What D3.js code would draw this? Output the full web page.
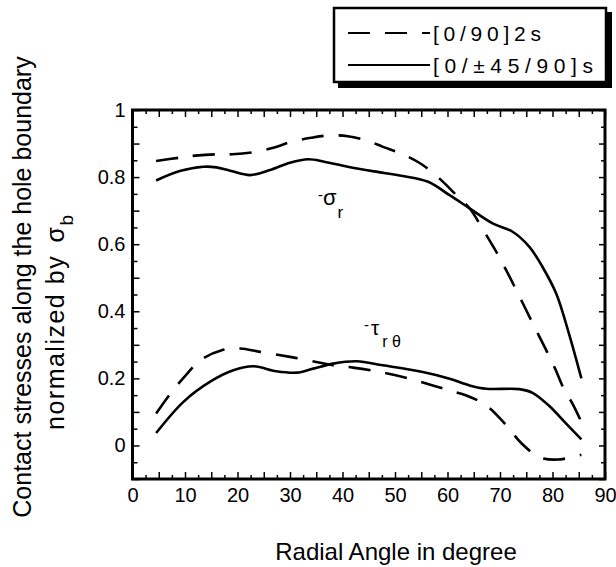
<!DOCTYPE html>
<html>
<head>
<meta charset="utf-8">
<script src="https://cdn.jsdelivr.net/npm/d3@7"></script>
<style>
  body { margin: 0; background: #fff; }
  svg text { font-family: "Liberation Sans", Arial, Helvetica, sans-serif; fill: #000; }
</style>
</head>
<body>
<div id="chart"></div>
<script>
// series: [angle in degree, normalized stress]
var sigmaCross = [
    [4.5, 0.848], [9, 0.858], [12, 0.864], [16, 0.868], [19, 0.868], [23, 0.874],
    [27, 0.888], [30, 0.904], [34, 0.917], [37.3, 0.924], [41, 0.922], [45, 0.907],
    [47.7, 0.89], [51.5, 0.868], [55, 0.839], [58.8, 0.791], [62.3, 0.736], [64.2, 0.707],
    [67.4, 0.627], [69.3, 0.577], [71.2, 0.522], [73.1, 0.463], [75, 0.403], [76.9, 0.343],
    [78.8, 0.284], [80.5, 0.229], [82, 0.174], [84, 0.119], [85.5, 0.07]
];
var sigmaQuasi = [
    [4.5, 0.79], [9, 0.818], [13.5, 0.831], [16, 0.829], [18.6, 0.819], [22.4, 0.806],
    [26.2, 0.821], [30, 0.843], [33.5, 0.853], [36.5, 0.846], [41, 0.831], [46, 0.817],
    [51.5, 0.803], [56.3, 0.786], [60.4, 0.746], [64.2, 0.707], [68.6, 0.662], [72.4, 0.637],
    [75.6, 0.592], [78.1, 0.532], [80.7, 0.453], [83.2, 0.33], [85.5, 0.2]
];
var tauCross = [
    [4.5, 0.095], [7.2, 0.154], [10.3, 0.212], [12.9, 0.254], [17, 0.284], [20.5, 0.289],
    [24.3, 0.279], [30, 0.264], [35, 0.249], [38.2, 0.239], [42, 0.232], [47.1, 0.219],
    [52.8, 0.199], [57.2, 0.179], [60.4, 0.164], [63.6, 0.149], [67.4, 0.119], [71.2, 0.06],
    [74, 0.008], [77.5, -0.035], [81, -0.042], [85.5, -0.028]
];
var tauQuasi = [
    [4.5, 0.037], [9.7, 0.13], [14.8, 0.19], [19.2, 0.224], [23, 0.236], [27.4, 0.221],
    [31.3, 0.217], [34.4, 0.229], [38.2, 0.244], [42.7, 0.251], [47.7, 0.239], [55.3, 0.219],
    [60.4, 0.199], [64.2, 0.179], [67.4, 0.169], [73.7, 0.168], [76.2, 0.157], [79.3, 0.119],
    [82.6, 0.065], [85.5, 0.018]
];

var xTickLabels = [0, 10, 20, 30, 40, 50, 60, 70, 80, 90];
var yTickLabels = [0, 0.2, 0.4, 0.6, 0.8, 1];
var legendNames = ["[0/90]2s", "[0/\u00b145/90]s"];

var width = 616, height = 567;
var x = d3.scaleLinear().domain([0, 90]).range([132.5, 605]);
var y = d3.scaleLinear().domain([-0.1, 1]).range([479, 110]);

var svg = d3.select("#chart").append("svg")
    .attr("width", width)
    .attr("height", height);

// tick positions
var xMajor = d3.range(0, 90.01, 5);
var xMinor = d3.range(2.5, 90, 5);
var yMajor = d3.range(-0.1, 1.001, 0.1).map(d => +d.toFixed(2));
var yMinor = d3.range(-0.05, 1, 0.1).map(d => +d.toFixed(2));

function tickAxis(axisFn, scale, values, size, transform) {
    var g = svg.append("g")
        .attr("transform", transform)
        .call(axisFn(scale).tickValues(values).tickSize(-size).tickFormat(""));
    g.select(".domain").remove();
    g.selectAll("line").attr("stroke", "#000").attr("stroke-width", 1.5);
    return g;
}
tickAxis(d3.axisBottom, x, xMajor, 7, "translate(0," + y(-0.1) + ")");
tickAxis(d3.axisBottom, x, xMinor, 4, "translate(0," + y(-0.1) + ")");
tickAxis(d3.axisTop, x, xMajor, 7, "translate(0," + y(1) + ")");
tickAxis(d3.axisTop, x, xMinor, 4, "translate(0," + y(1) + ")");
tickAxis(d3.axisLeft, y, yMajor, 7, "translate(" + x(0) + ",0)");
tickAxis(d3.axisLeft, y, yMinor, 5, "translate(" + x(0) + ",0)");
tickAxis(d3.axisRight, y, yMajor, 6, "translate(" + x(90) + ",0)");
tickAxis(d3.axisRight, y, yMinor, 4, "translate(" + x(90) + ",0)");

// tick labels
var xLab = svg.append("g")
    .attr("transform", "translate(0," + y(-0.1) + ")")
    .call(d3.axisBottom(x).tickValues(xTickLabels).tickSize(0).tickPadding(9).tickFormat(d3.format("d")));
xLab.select(".domain").remove();
xLab.selectAll("text").style("font-size", "20px");

var yLab = svg.append("g")
    .attr("transform", "translate(" + x(0) + ",0)")
    .call(d3.axisLeft(y).tickValues(yTickLabels).tickSize(0).tickPadding(7).tickFormat(d => d === 0 || d === 1 ? d3.format("d")(d) : d3.format(".1f")(d)));
yLab.select(".domain").remove();
yLab.selectAll("text").style("font-size", "20px");

// frame
svg.append("rect")
    .attr("x", x(0))
    .attr("y", y(1))
    .attr("width", x(90) - x(0))
    .attr("height", y(-0.1) - y(1))
    .attr("fill", "none")
    .attr("stroke", "#000")
    .attr("stroke-width", 3);

// curves
var line = d3.line()
    .x(d => x(d[0]))
    .y(d => y(d[1]))
    .curve(d3.curveCatmullRom.alpha(0.5));

var series = [
    { data: sigmaCross, dash: "22,15" },
    { data: tauCross, dash: "22,15" },
    { data: sigmaQuasi, dash: null },
    { data: tauQuasi, dash: null }
];
svg.selectAll(".curve")
    .data(series)
    .enter().append("path")
    .attr("class", "curve")
    .attr("d", d => line(d.data))
    .attr("fill", "none")
    .attr("stroke", "#000")
    .attr("stroke-width", 2.6)
    .attr("stroke-dasharray", d => d.dash);

// curve annotations
var sig = svg.append("text").attr("x", 318).attr("y", 205);
sig.append("tspan").attr("dy", -5).style("font-size", "15px").text("-");
sig.append("tspan").attr("dy", 5).style("font-size", "22px").text("\u03c3");
sig.append("tspan").attr("dy", 13).attr("dx", 1).style("font-size", "17px").text("r");

var tau = svg.append("text").attr("x", 364).attr("y", 335);
tau.append("tspan").attr("dy", -5).style("font-size", "15px").text("-");
tau.append("tspan").attr("dy", 5).attr("dx", 2).style("font-size", "21px").text("\u03c4");
tau.append("tspan").attr("dy", 12).attr("dx", 3).style("font-size", "16px").text("r \u03b8");

// axis titles
svg.append("text")
    .attr("x", 396)
    .attr("y", 560)
    .attr("text-anchor", "middle")
    .style("font-size", "24px")
    .text("Radial Angle in degree");

svg.append("text")
    .attr("transform", "translate(31,287) rotate(-90)")
    .attr("text-anchor", "middle")
    .style("font-size", "25px")
    .text("Contact stresses along the hole boundary");

var yl2 = svg.append("text")
    .attr("transform", "translate(64,430) rotate(-90)")
    .attr("text-anchor", "start")
    .style("font-size", "25px")
    .style("letter-spacing", "1.5px");
yl2.append("tspan").text("normalized by ");
yl2.append("tspan").attr("dx", 4).text("\u03c3");
yl2.append("tspan").attr("dy", 9).style("font-size", "19px").text("b");

// legend
var lg = svg.append("g");
lg.append("rect")
    .attr("x", 338).attr("y", 12).attr("width", 274).attr("height", 76)
    .attr("fill", "#000");
lg.append("rect")
    .attr("x", 334).attr("y", 8).attr("width", 272).attr("height", 74)
    .attr("fill", "#fff")
    .attr("stroke", "#000")
    .attr("stroke-width", 2.5);
var legRows = [
    { name: legendNames[0], dash: "22,15", ly: 33, ty: 41, len: 108 },
    { name: legendNames[1], dash: null, ly: 65, ty: 73, len: 160 }
];
legRows.forEach(function (r) {
    lg.append("line")
        .attr("x1", 348).attr("x2", 430)
        .attr("y1", r.ly).attr("y2", r.ly)
        .attr("stroke", "#000")
        .attr("stroke-width", 2)
        .attr("stroke-dasharray", r.dash);
    lg.append("text")
        .attr("x", 433).attr("y", r.ty)
        .attr("textLength", r.len)
        .attr("lengthAdjust", "spacing")
        .style("font-size", "21px")
        .text(r.name);
});
</script>
</body>
</html>
